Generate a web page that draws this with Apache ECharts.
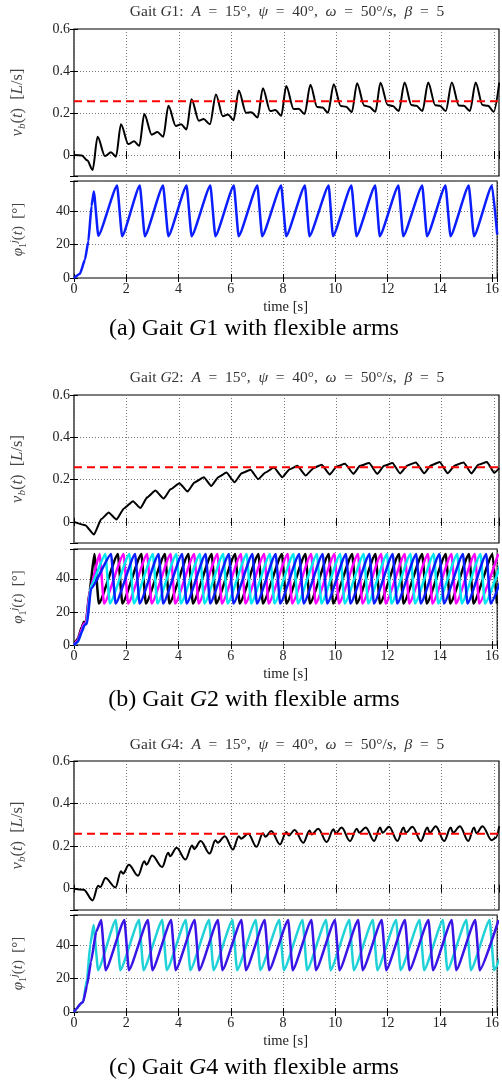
<!DOCTYPE html>
<html>
<head>
<meta charset="utf-8">
<script src="https://cdn.jsdelivr.net/npm/echarts@6/dist/echarts.min.js"></script>
<style>
  html, body { margin: 0; padding: 0; background: #fff; }
  #chart { width: 502px; height: 1082px; }
</style>
</head>
<body>
<div id="chart"></div>
<script>
// time axis
var tMax = 16.2
var timeTicks = [0, 2, 4, 6, 8, 10, 12, 14, 16]
var meanSpeed = [0.256, 0.258, 0.258]

// gait G1 : body speed
var g1VelT = [0, 0.3, 0.5, 0.71, 0.90,
  1.18, 1.41, 1.60, 1.79, 2.07, 2.29, 2.49, 2.68, 2.96, 3.18, 3.40, 3.60,
  3.88, 4.08, 4.29, 4.48, 4.76, 4.94, 5.18, 5.41, 5.67, 5.87, 6.08, 6.28,
  6.56, 6.76, 7.00, 7.20, 7.48, 7.67, 7.90, 8.09, 8.37, 8.56, 8.79, 9.01,
  9.27, 9.47, 9.68, 9.90, 10.17, 10.37, 10.59, 10.79, 11.06, 11.25, 11.49, 11.68,
  11.96, 12.15, 12.38, 12.60, 12.86, 13.05, 13.28, 13.50, 13.77, 13.94, 14.17, 14.40,
  14.67, 14.86, 15.09, 15.31, 15.57, 15.78, 16.00, 16.21]
var g1Vel = [0, -0.002, -0.025, -0.071, 0.087,
  -0.005, 0.013, -0.008, 0.146, 0.052, 0.065, 0.044, 0.195, 0.097, 0.109, 0.087, 0.234,
  0.138, 0.146, 0.122, 0.266, 0.163, 0.171, 0.146, 0.288, 0.185, 0.193, 0.166, 0.307,
  0.201, 0.204, 0.179, 0.318, 0.209, 0.214, 0.187, 0.328, 0.219, 0.220, 0.195, 0.334,
  0.228, 0.226, 0.201, 0.337, 0.233, 0.230, 0.204, 0.342, 0.236, 0.230, 0.206, 0.344,
  0.238, 0.233, 0.209, 0.345, 0.238, 0.234, 0.209, 0.345, 0.237, 0.234, 0.209, 0.345,
  0.236, 0.234, 0.209, 0.345, 0.238, 0.234, 0.206, 0.345]

// gait G1 : arm angle
var g1PhiT = [0, 0.23, 0.42, 0.55, 0.67, 0.76, 0.93, 1.65, 1.84, 2.52, 2.71, 3.41, 3.61,
  4.31, 4.50, 5.22, 5.41, 6.12, 6.30, 7.02, 7.20, 7.93, 8.12, 8.84, 9.01, 9.75, 9.91,
  10.62, 10.81, 11.53, 11.70, 12.42, 12.60, 13.33, 13.51, 14.22, 14.41, 15.11, 15.31, 16.00, 16.20]
var g1Phi = [0, 2.6, 11, 22, 43, 51.7, 25.3, 55.3, 25, 55.3, 25, 55.3, 25,
  55.3, 25, 55.3, 25, 55.3, 25, 55.3, 25, 55.3, 25, 55.3, 25, 55.3, 25,
  55.3, 25, 55.3, 25, 55.3, 25, 55.3, 25, 55.3, 25, 55.3, 25, 55.3, 26]

// gait G2 : body speed
var g2VelT = [0, 0.43, 0.76, 1.04, 1.32, 1.62, 1.90, 2.25, 2.53, 2.79, 3.10, 3.42, 3.68,
  4.02, 4.33, 4.59, 4.95, 5.23, 5.50, 5.81, 6.12, 6.39, 6.73, 7.02, 7.30, 7.62, 7.94,
  8.22, 8.51, 8.83, 9.15, 9.44, 9.75, 10.01, 10.33, 10.65, 10.90, 11.25, 11.56, 11.82,
  12.14, 12.43, 12.71, 13.03, 13.35, 13.60, 13.94, 14.24, 14.52, 14.85, 15.15, 15.41,
  15.74, 16.02, 16.21]
var g2Vel = [0, -0.016, -0.060, 0.013, 0.044, 0.011, 0.063, 0.098, 0.065, 0.116, 0.148, 0.110, 0.154,
  0.183, 0.143, 0.186, 0.211, 0.170, 0.211, 0.233, 0.187, 0.230, 0.246, 0.202, 0.233, 0.257, 0.211,
  0.249, 0.265, 0.219, 0.256, 0.270, 0.224, 0.262, 0.275, 0.227, 0.265, 0.278, 0.227, 0.265,
  0.278, 0.229, 0.267, 0.281, 0.230, 0.267, 0.283, 0.230, 0.267, 0.281, 0.229, 0.270,
  0.283, 0.232, 0.254]

// gait G2 : arm angles (black, magenta, cyan, blue)
var g2PhiT1 = [0, 0.15, 0.30, 0.38, 0.45, 0.60, 0.78, 0.95, 1.68, 1.85, 2.58, 2.75, 3.48, 3.65,
  4.38, 4.55, 5.27, 5.44, 6.17, 6.34, 7.06, 7.23, 7.96, 8.13, 8.86, 9.03, 9.75, 9.92,
  10.65, 10.82, 11.54, 11.71, 12.44, 12.61, 13.33, 13.50, 14.23, 14.40, 15.12, 15.29, 16.02, 16.19]
var g2Phi1 = [0, 4, 11, 14, 13, 33, 55, 25, 55, 25, 55, 25, 55, 25,
  55, 25, 55, 25, 55, 25, 55, 25, 55, 25, 55, 25, 55, 25,
  55, 25, 55, 25, 55, 25, 55, 25, 55, 25, 55, 25, 55, 25]
var g2PhiT2 = [0, 0.15, 0.30, 0.38, 0.45, 0.62, 0.98, 1.15, 1.90, 2.07, 2.80, 2.97, 3.70, 3.87,
  4.60, 4.77, 5.49, 5.66, 6.39, 6.56, 7.28, 7.45, 8.18, 8.35, 9.08, 9.25, 9.97, 10.14,
  10.87, 11.04, 11.76, 11.93, 12.66, 12.83, 13.55, 13.72, 14.45, 14.62, 15.34, 15.51, 16.24]
var g2Phi2 = [0, 3, 10, 13, 13, 34, 55, 25, 55, 25, 55, 25, 55, 25,
  55, 25, 55, 25, 55, 25, 55, 25, 55, 25, 55, 25, 55, 25,
  55, 25, 55, 25, 55, 25, 55, 25, 55, 25, 55, 25, 55]
var g2PhiT3 = [0, 0.15, 0.30, 0.40, 0.48, 0.65, 1.20, 1.37, 2.12, 2.29, 3.02, 3.19, 3.92, 4.09,
  4.82, 4.99, 5.71, 5.88, 6.61, 6.78, 7.50, 7.67, 8.40, 8.57, 9.30, 9.47, 10.19, 10.36,
  11.09, 11.26, 11.98, 12.15, 12.88, 13.05, 13.77, 13.94, 14.67, 14.84, 15.56, 15.73, 16.46]
var g2Phi3 = [0, 2, 8, 12, 13, 36, 55, 25, 55, 25, 55, 25, 55, 25,
  55, 25, 55, 25, 55, 25, 55, 25, 55, 25, 55, 25, 55, 25,
  55, 25, 55, 25, 55, 25, 55, 25, 55, 25, 55, 25, 55]
var g2PhiT4 = [0, 0.15, 0.30, 0.40, 0.50, 0.65, 1.42, 1.59, 2.34, 2.51, 3.24, 3.41, 4.14, 4.31,
  5.04, 5.21, 5.93, 6.10, 6.83, 7.00, 7.72, 7.89, 8.62, 8.79, 9.52, 9.69, 10.41, 10.58,
  11.31, 11.48, 12.20, 12.37, 13.10, 13.27, 13.99, 14.16, 14.89, 15.06, 15.78, 15.95, 16.68]
var g2Phi4 = [0, 2, 8, 12, 13, 34, 55, 25, 55, 25, 55, 25, 55, 25,
  55, 25, 55, 25, 55, 25, 55, 25, 55, 25, 55, 25, 55, 25,
  55, 25, 55, 25, 55, 25, 55, 25, 55, 25, 55, 25, 55]

// gait G4 : body speed
var g4VelT = [0, 0.37, 0.71, 0.92, 1.00, 1.20,
  1.58, 1.79, 1.87, 2.09, 2.44, 2.68, 2.76, 2.98, 3.36, 3.59, 3.66, 3.91,
  4.25, 4.50, 4.58, 4.83, 5.17, 5.39, 5.48, 5.75, 6.06, 6.28, 6.37, 6.64,
  6.96, 7.20, 7.30, 7.52, 7.85, 8.09, 8.19, 8.41, 8.74, 8.98, 9.06, 9.31,
  9.63, 9.89, 9.98, 10.20, 10.52, 10.78, 10.87, 11.12, 11.44, 11.67, 11.76, 12.01,
  12.33, 12.56, 12.65, 12.90, 13.22, 13.47, 13.56, 13.79, 14.11, 14.36, 14.45, 14.71,
  15.03, 15.25, 15.34, 15.57, 15.92, 16.08, 16.21]
var g4Vel = [0, -0.005, -0.055, 0.014, 0.008, 0.050,
  0.006, 0.082, 0.071, 0.112, 0.061, 0.129, 0.113, 0.156, 0.102, 0.169, 0.153, 0.192,
  0.137, 0.203, 0.187, 0.224, 0.165, 0.228, 0.216, 0.247, 0.184, 0.247, 0.235, 0.258,
  0.197, 0.260, 0.244, 0.271, 0.208, 0.266, 0.250, 0.276, 0.216, 0.274, 0.255, 0.282,
  0.219, 0.279, 0.260, 0.287, 0.224, 0.282, 0.263, 0.288, 0.224, 0.287, 0.263, 0.291,
  0.224, 0.287, 0.263, 0.291, 0.224, 0.287, 0.263, 0.294, 0.224, 0.287, 0.263, 0.294,
  0.224, 0.287, 0.260, 0.294, 0.228, 0.239, 0.294]

// gait G4 : arm angles (cyan pair, blue pair)
var g4PhiT1 = [0, 0.10, 0.25, 0.35, 0.50, 0.62, 0.75, 0.92, 1.60, 1.77, 2.49, 2.66, 3.38, 3.55,
  4.28, 4.45, 5.17, 5.34, 6.07, 6.24, 6.96, 7.13, 7.86, 8.03, 8.75, 8.92, 9.65, 9.82,
  10.54, 10.71, 11.44, 11.61, 12.33, 12.50, 13.23, 13.40, 14.12, 14.29, 15.02, 15.19, 15.91, 16.08, 16.80]
var g4Phi1 = [0, 2, 5, 6, 20, 40, 52, 25, 55, 25, 55, 25, 55, 25,
  55, 25, 55, 25, 55, 25, 55, 25, 55, 25, 55, 25, 55, 25,
  55, 25, 55, 25, 55, 25, 55, 25, 55, 25, 55, 25, 55, 25, 55]
var g4PhiT2 = [0, 0.10, 0.25, 0.35, 0.50, 0.65, 0.85, 1.04, 1.21, 1.93, 2.10, 2.83, 3.00, 3.72, 3.89,
  4.62, 4.79, 5.51, 5.68, 6.41, 6.58, 7.30, 7.47, 8.20, 8.37, 9.09, 9.26, 9.99, 10.16,
  10.88, 11.05, 11.78, 11.95, 12.67, 12.84, 13.57, 13.74, 14.46, 14.63, 15.36, 15.53, 16.25]
var g4Phi2 = [0, 2, 5, 6, 16, 30, 48, 55, 25, 55, 25, 55, 25, 55, 25,
  55, 25, 55, 25, 55, 25, 55, 25, 55, 25, 55, 25, 55, 25,
  55, 25, 55, 25, 55, 25, 55, 25, 55, 25, 55, 25, 55]

function pts(t, v) {
  var out = []
  for (var i = 0; i < Math.min(t.length, v.length); i++) out.push([t[i], v[i]])
  return out
}

var serif = 'Liberation Serif'
var sp = '\u2002'
var panels = [
  { top: 29, height: 147 }, { top: 181, height: 97 },
  { top: 395, height: 148 }, { top: 549, height: 96 },
  { top: 761, height: 149 }, { top: 915, height: 97 }
]
var tickStyle = { show: true, inside: true, length: 4, lineStyle: { color: '#000' } }
var dotted = { show: true, lineStyle: { color: '#777', type: [1, 2], width: 1 } }
var labelFont = { color: '#222', fontFamily: serif, fontSize: 14 }

var mychart = echarts.init(document.getElementById('chart'))

var grids = [], xAxes = [], yAxes = []
panels.forEach(function (p, i) {
  var isPhi = i % 2 === 1
  grids.push({ left: 74, width: 425, top: p.top, height: p.height,
    show: true, borderColor: '#000', borderWidth: 1.2, backgroundColor: '#fff' })
  xAxes.push({
    type: 'value', gridIndex: i, min: 0, max: tMax, interval: 2,
    axisLine: { show: false }, axisTick: tickStyle, splitLine: dotted,
    axisLabel: Object.assign({ show: isPhi, margin: 4,
      formatter: function (v) { return timeTicks.indexOf(Math.round(v * 100) / 100) >= 0 ? String(v) : '' } }, labelFont),
    name: isPhi ? 'time [s]' : '', nameLocation: 'middle', nameGap: 22,
    nameTextStyle: { fontFamily: serif, fontSize: 14.5, color: '#222' }
  })
  yAxes.push(isPhi ? {
    type: 'value', gridIndex: i, min: 0, max: 58, interval: 20,
    axisLine: { show: false }, axisTick: tickStyle, splitLine: dotted,
    axisLabel: Object.assign({ margin: 4,
      formatter: function (v) { return v % 20 === 0 ? String(v) : '' } }, labelFont),
    name: '{i|φ}{sub|1}{sup|j}({i|t})' + sp + '[°]', nameLocation: 'middle', nameRotate: 90, nameGap: 46,
    nameTextStyle: { fontFamily: serif, fontSize: 15, color: '#444',
      rich: {
        i: { fontFamily: serif, fontSize: 15, fontStyle: 'italic', color: '#444' },
        sub: { fontFamily: serif, fontSize: 10, color: '#444', padding: [9, 0, 0, 0] },
        sup: { fontFamily: serif, fontSize: 10, fontStyle: 'italic', color: '#444', padding: [0, 0, 9, 0] }
      } }
  } : {
    type: 'value', gridIndex: i, min: -0.1, max: 0.6, splitNumber: 4,
    axisLine: { show: false }, axisTick: tickStyle, splitLine: dotted,
    axisLabel: Object.assign({ margin: 4,
      formatter: function (v) { return v < -0.05 ? '' : (v === 0 ? '0' : v.toFixed(1)) } }, labelFont),
    name: '{i|v}{sub|b}({i|t})' + sp + '[{i|L}/s]', nameLocation: 'middle', nameRotate: 90, nameGap: 46,
    nameTextStyle: { fontFamily: serif, fontSize: 16.5, color: '#444',
      rich: {
        i: { fontFamily: serif, fontSize: 16.5, fontStyle: 'italic', color: '#444' },
        sub: { fontFamily: serif, fontSize: 11, fontStyle: 'italic', color: '#444', padding: [9, 0, 0, 0] }
      } }
  })
})
// mirrored ticks on the top and right edges of every box
panels.forEach(function (p, i) {
  var isPhi = i % 2 === 1
  xAxes.push({ type: 'value', gridIndex: i, position: 'top', min: 0, max: tMax, interval: 2,
    axisLine: { show: false }, axisTick: tickStyle, splitLine: { show: false }, axisLabel: { show: false } })
  yAxes.push(isPhi
    ? { type: 'value', gridIndex: i, position: 'right', min: 0, max: 58, interval: 20,
        axisLine: { show: false }, axisTick: tickStyle, splitLine: { show: false }, axisLabel: { show: false } }
    : { type: 'value', gridIndex: i, position: 'right', min: -0.1, max: 0.6, splitNumber: 4,
        axisLine: { show: false }, axisTick: tickStyle, splitLine: { show: false }, axisLabel: { show: false } })
})

function line(idx, data, color, width, smooth) {
  return { type: 'line', xAxisIndex: idx, yAxisIndex: idx, data: data, showSymbol: false,
    smooth: smooth, smoothMonotone: 'x', clip: true, silent: true,
    lineStyle: { color: color, width: width } }
}
function meanLine(idx, m) {
  return { type: 'line', xAxisIndex: idx, yAxisIndex: idx, data: [[0, m], [tMax, m]],
    showSymbol: false, silent: true, z: 5,
    lineStyle: { color: '#ff0000', width: 2, type: [8, 5] } }
}

var series = [
  line(0, pts(g1VelT, g1Vel), '#000', 2, 0.3),
  meanLine(0, meanSpeed[0]),
  line(1, pts(g1PhiT, g1Phi), '#0a1eff', 2.5, 0.15),
  line(2, pts(g2VelT, g2Vel), '#000', 2, 0.15),
  meanLine(2, meanSpeed[1]),
  line(3, pts(g2PhiT1, g2Phi1), '#000', 2.5, 0.15),
  line(3, pts(g2PhiT2, g2Phi2), '#ff00ff', 2.5, 0.15),
  line(3, pts(g2PhiT3, g2Phi3), '#00e8f0', 2.5, 0.15),
  line(3, pts(g2PhiT4, g2Phi4), '#0a1eff', 2.5, 0.15),
  line(4, pts(g4VelT, g4Vel), '#000', 2, 0.35),
  meanLine(4, meanSpeed[2]),
  line(5, pts(g4PhiT1, g4Phi1), '#1ed2d8', 2.5, 0.15),
  line(5, pts(g4PhiT2, g4Phi2), '#3a14e6', 2.5, 0.15)
]

var titleRich = { i: { fontFamily: serif, fontSize: 15.5, fontStyle: 'italic', fill: '#333' } }
var capRich = { i: { fontFamily: serif, fontSize: 24, fontStyle: 'italic', fill: '#000' } }
function txt(x, y, text, size, color, rich) {
  return { type: 'text', x: x, y: y, silent: true,
    style: { text: text, fontFamily: serif, fontSize: size, fill: color,
      align: 'center', verticalAlign: 'middle', rich: rich } }
}
function gaitTitle(g) {
  return 'Gait {i|G}' + g + ':' + sp + '{i|A}' + sp + '=' + sp + '15°,' + sp + '{i|ψ}' + sp + '=' + sp + '40°,' + sp +
    '{i|ω}' + sp + '=' + sp + '50°/{i|s},' + sp + '{i|β}' + sp + '=' + sp + '5'
}
function caption(tag, g) {
  return '(' + tag + ') Gait {i|G}' + g + ' with flexible arms'
}

mychart.setOption({
  animation: false,
  grid: grids,
  xAxis: xAxes,
  yAxis: yAxes,
  series: series,
  graphic: [
    txt(287, 12, gaitTitle(1), 15.5, '#333', titleRich),
    txt(287, 378, gaitTitle(2), 15.5, '#333', titleRich),
    txt(287, 745, gaitTitle(4), 15.5, '#333', titleRich),
    txt(254, 329, caption('a', 1), 24, '#000', capRich),
    txt(254, 700, caption('b', 2), 24, '#000', capRich),
    txt(254, 1068, caption('c', 4), 24, '#000', capRich)
  ]
})
</script>
</body>
</html>
